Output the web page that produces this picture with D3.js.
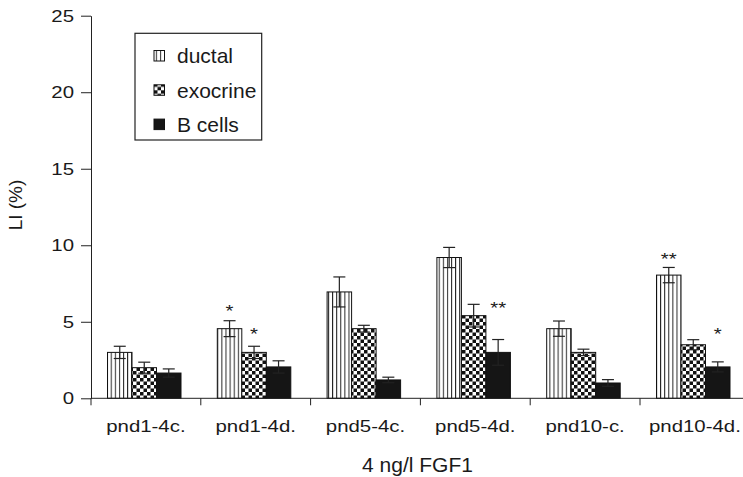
<!DOCTYPE html>
<html>
<head>
<meta charset="utf-8">
<script src="https://cdn.jsdelivr.net/npm/d3@7"></script>
<style>
  body { margin: 0; background: #fff; }
  svg { display: block; font-family: "Liberation Sans", Arial, Helvetica, sans-serif; }
  text { fill: #1a1a1a; }
</style>
</head>
<body>
<div id="chart"></div>
<script>
// chart values
var categories = ["pnd1-4c.", "pnd1-4d.", "pnd5-4c.", "pnd5-4d.", "pnd10-c.", "pnd10-4d."];
var seriesNames = ["ductal", "exocrine", "B cells"];

var ductal = [3.0, 4.55, 6.95, 9.2, 4.55, 8.05];
var ductalErr = [0.4, 0.52, 0.98, 0.66, 0.5, 0.5];
var exocrine = [2.0, 3.0, 4.55, 5.4, 3.0, 3.5];
var exocrineErr = [0.36, 0.4, 0.22, 0.74, 0.21, 0.33];
var bCells = [1.65, 2.05, 1.2, 3.0, 1.0, 2.05];
var bCellsErr = [0.27, 0.4, 0.18, 0.84, 0.22, 0.33];

var yTicks = [0, 5, 10, 15, 20, 25];

// significance marks: category, series, text, value at the mark's centre
var stars = [
    {cat: "pnd1-4d.", series: "ductal", mark: "*", level: 5.95},
    {cat: "pnd1-4d.", series: "exocrine", mark: "*", level: 4.45},
    {cat: "pnd5-4d.", series: "B cells", mark: "**", level: 6.15},
    {cat: "pnd10-4d.", series: "ductal", mark: "**", level: 9.35},
    {cat: "pnd10-4d.", series: "B cells", mark: "*", level: 4.45}
];

var W = 743, H = 477;
var x0 = 91, yBase = 398.3, yTop = 15.7, band = 109.8;
var sx = 1.2; // the figure's type is a little wider than normal

var svg = d3.select("#chart").append("svg").attr("width", W).attr("height", H);

var defs = svg.append("defs");
var stripes = defs.append("pattern").attr("id", "stripes")
    .attr("patternUnits", "userSpaceOnUse").attr("width", 4.1).attr("height", 10);
stripes.append("rect").attr("width", 4.1).attr("height", 10).attr("fill", "#fff");
stripes.append("rect").attr("x", 0).attr("width", 1).attr("height", 10).attr("fill", "#222");

var checks = defs.append("pattern").attr("id", "checks")
    .attr("patternUnits", "userSpaceOnUse").attr("width", 7).attr("height", 7);
checks.append("rect").attr("width", 7).attr("height", 7).attr("fill", "#fff");
checks.append("rect").attr("width", 3.5).attr("height", 3.5).attr("fill", "#111");
checks.append("rect").attr("x", 3.5).attr("y", 3.5).attr("width", 3.5).attr("height", 3.5).attr("fill", "#111");

var fills = {"ductal": "url(#stripes)", "exocrine": "url(#checks)", "B cells": "#151515"};

var x = d3.scaleBand().domain(categories).range([x0, x0 + band * categories.length]);
var xs = d3.scaleBand().domain(seriesNames).range([16.5, 16.5 + 73.5]);
var y = d3.scaleLinear().domain([0, 25]).range([yBase, yTop]);

var values = {"ductal": ductal, "exocrine": exocrine, "B cells": bCells};
var errs = {"ductal": ductalErr, "exocrine": exocrineErr, "B cells": bCellsErr};

var rows = [];
seriesNames.forEach(function(s) {
    categories.forEach(function(c, i) {
        rows.push({cat: c, series: s, v: values[s][i], e: errs[s][i]});
    });
});

// bars
svg.append("g").selectAll("rect").data(rows).join("rect")
    .attr("x", function(d) { return x(d.cat) + xs(d.series); })
    .attr("y", function(d) { return y(d.v); })
    .attr("width", xs.bandwidth())
    .attr("height", function(d) { return yBase - y(d.v); })
    .attr("fill", function(d) { return fills[d.series]; })
    .attr("stroke", "#111").attr("stroke-width", 1);

// error bars
var eb = svg.append("g").attr("stroke", "#222").attr("stroke-width", 1.2)
    .selectAll("g").data(rows).join("g")
    .attr("transform", function(d) { return "translate(" + (x(d.cat) + xs(d.series) + xs.bandwidth() / 2) + ",0)"; });
eb.append("line").attr("y1", function(d) { return y(d.v - d.e); }).attr("y2", function(d) { return y(d.v + d.e); });
eb.append("line").attr("x1", -6).attr("x2", 6)
    .attr("y1", function(d) { return y(d.v + d.e); }).attr("y2", function(d) { return y(d.v + d.e); });
eb.append("line").attr("x1", -6).attr("x2", 6)
    .attr("y1", function(d) { return y(d.v - d.e); }).attr("y2", function(d) { return y(d.v - d.e); });

// stars
svg.append("g").selectAll("text").data(stars).join("text")
    .attr("transform", function(d) {
        return "translate(" + (x(d.cat) + xs(d.series) + xs.bandwidth() / 2) + "," + (y(d.level) + 9.5) + ") scale(" + sx + ",1)";
    })
    .attr("text-anchor", "middle").attr("font-size", 17)
    .text(function(d) { return d.mark; });

// y axis
var yAxis = svg.append("g").attr("transform", "translate(" + x0 + ",0)")
    .call(d3.axisLeft(y).tickValues(yTicks).tickSize(10).tickPadding(7).tickSizeOuter(0));
yAxis.select(".domain").attr("stroke", "#222");
yAxis.selectAll(".tick line").attr("stroke", "#222");
yAxis.selectAll("text").attr("font-size", 17).attr("fill", "#1a1a1a")
    .attr("font-family", "Liberation Sans, Arial, sans-serif")
    .attr("transform", function() { return "translate(" + d3.select(this).attr("x") + ",0) scale(" + sx + ",1)"; })
    .attr("x", 0);

// x axis: line, boundary ticks, centred labels
svg.append("line").attr("x1", x0).attr("x2", x0 + band * categories.length)
    .attr("y1", yBase).attr("y2", yBase).attr("stroke", "#222");
svg.append("g").attr("stroke", "#222").selectAll("line").data(categories).join("line")
    .attr("x1", function(d) { return x(d); }).attr("x2", function(d) { return x(d); })
    .attr("y1", yBase).attr("y2", yBase + 7);

var xAxis = svg.append("g").attr("transform", "translate(0," + yBase + ")")
    .call(d3.axisBottom(x).tickSize(0));
xAxis.select(".domain").remove();
xAxis.selectAll("text").attr("font-size", 17).attr("fill", "#1a1a1a")
    .attr("font-family", "Liberation Sans, Arial, sans-serif")
    .attr("dy", null).attr("y", 0)
    .attr("transform", "translate(0,34) scale(" + sx + ",1)");

// axis titles
svg.append("text").attr("transform", "translate(22,205) rotate(-90)")
    .attr("text-anchor", "middle").attr("font-size", 19).text("LI (%)");
svg.append("text").attr("x", 417.5).attr("y", 471.5)
    .attr("text-anchor", "middle").attr("font-size", 21).text("4 ng/l FGF1");

// legend
var lg = svg.append("g");
lg.append("rect").attr("x", 135).attr("y", 33.3).attr("width", 126.7).attr("height", 106.7)
    .attr("fill", "#fff").attr("stroke", "#222").attr("stroke-width", 1.2);
var item = lg.selectAll("g").data(seriesNames).join("g")
    .attr("transform", function(d, i) { return "translate(0," + (i * 34.3) + ")"; });
item.append("rect").attr("x", 154).attr("y", 50.5).attr("width", 10.5).attr("height", 10.5)
    .attr("fill", function(d) { return fills[d]; }).attr("stroke", "#111");
item.append("text").attr("x", 177).attr("y", 63.3).attr("font-size", 21).text(function(d) { return d; });
</script>
</body>
</html>
